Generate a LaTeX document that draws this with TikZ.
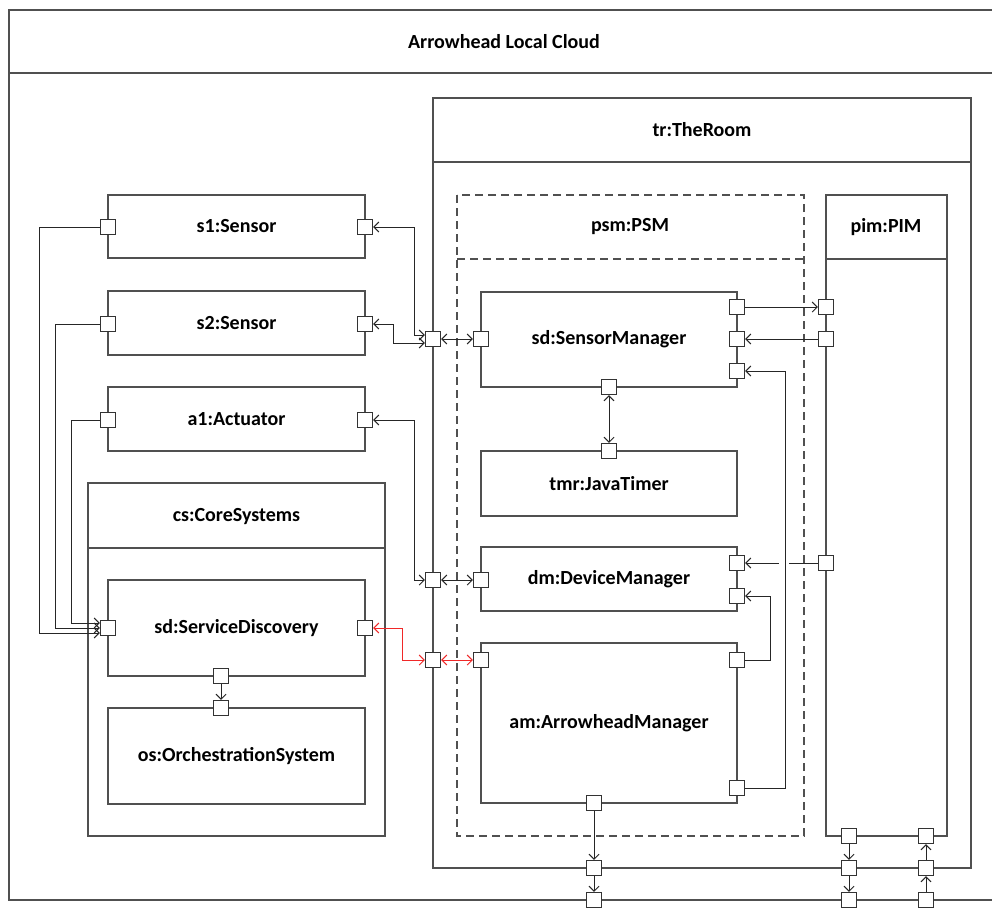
\documentclass[tikz,border=0pt]{standalone}
\usepackage{fontspec}
\setmainfont{Carlito}
\usetikzlibrary{arrows.meta}
\definecolor{boxgray}{RGB}{80,80,80}
\definecolor{wirered}{RGB}{240,40,40}
\tikzset{
  frame/.style={draw=boxgray, line width=1.3pt},
  title/.style={font=\bfseries\fontsize{20}{24}\selectfont},
  part/.style={frame, title, inner sep=0pt, minimum width=257pt},
  port/.style={draw=black!80, line width=1.2pt, fill=white, minimum size=15pt, inner sep=0pt},
  wire/.style={draw=black!85, line width=1pt, >={Straight Barb[length=5pt,width=10pt]}},
  redwire/.style={wire, draw=wirered},
}
\begin{document}
\begin{tikzpicture}[x=1pt,y=-1pt]
\clip (0,0) rectangle (992,907);
\fill[white] (0,0) rectangle (992,907);
% frames with a header
\draw[frame] (9,10) rectangle (1020,900);
\draw[frame] (9,73) -- (1020,73);
\node[title] (alc) at (504,42) {Arrowhead Local Cloud};
\draw[frame] (433,98) rectangle (971,868);
\draw[frame] (433,162) -- (971,162);
\node[title] (tr) at (702,130) {tr:TheRoom};
\draw[frame,dash pattern=on 8pt off 5pt] (457,195) rectangle (804,836);
\draw[frame,dash pattern=on 8pt off 5pt] (457,259) -- (804,259);
\node[title] (psm) at (630,227) {psm:PSM};
\draw[frame] (826,195) rectangle (947,836);
\draw[frame] (826,259) -- (947,259);
\node[title] (pim) at (886,227) {pim:PIM};
\draw[frame] (88,483) rectangle (385,836);
\draw[frame] (88,548) -- (385,548);
\node[title] (cs) at (236.5,517) {cs:CoreSystems};
% parts
\node[part, minimum height=63pt] (s1) at (236.5,226.5) {s1:Sensor};
\node[part, minimum height=64pt] (s2) at (236.5,323) {s2:Sensor};
\node[part, minimum height=64pt] (a1) at (236.5,419) {a1:Actuator};
\node[part, minimum height=96pt] (sd) at (236.5,628) {sd:ServiceDiscovery};
\node[part, minimum height=96pt] (os) at (236.5,756) {os:OrchestrationSystem};
\node[part, minimum width=256pt, minimum height=95pt] (sm) at (609,339.5) {sd:SensorManager};
\node[part, minimum width=256pt, minimum height=65pt] (tmr) at (609,483.5) {tmr:JavaTimer};
\node[part, minimum width=256pt, minimum height=64pt] (dm) at (609,579) {dm:DeviceManager};
\node[part, minimum width=256pt, minimum height=160pt] (am) at (609,723) {am:ArrowheadManager};
% ports
\foreach \n/\x/\y in {s1l/108/227, s1r/365/227, s2l/108/324, s2r/365/324,
  a1l/108/420, a1r/365/420, sdl/108/628, sdr/365/628, sdb/221/676, ost/221/708,
  trA/433/339, trB/433/580, trC/433/660,
  smL/481/339, smR1/737/307, smR2/737/339, smR3/737/371, smB/609/387, tmT/609/451,
  dmL/481/580, dmR1/737/563, dmR2/737/596,
  amL/481/660, amR1/737/660, amR2/737/788, amB/594/803,
  pmA/826/307, pmB/826/339, pmC/826/563, pmD/849/836, pmE/926/836,
  trD/594/868, trE/849/868, trF/926/868, acA/594/900, acB/849/900, acC/926/900}
\node[port] (\n) at (\x,\y) {};
% connectors to the room
\draw[wire,<->] (s1r.east) -- ++(41,0) |- ([yshift=4pt]trA.west);
\draw[wire,<->] (s2r.east) -- ++(20,0) |- ([yshift=-4pt]trA.west);
\draw[wire,<->] (trA) -- (smL);
\draw[wire,<->] (a1r.east) -- ++(41,0) |- (trB.west);
\draw[wire,<->] (trB) -- (dmL);
\draw[redwire,<->] (sdr.east) -- ++(29,0) |- (trC.west);
\draw[redwire,<->] (trC) -- (amL);
% service discovery
\draw[wire,->] (s1l.west) -- ++(-60,0) |- ([yshift=-5pt]sdl.west);
\draw[wire,->] (s2l.west) -- ++(-44,0) |- (sdl.west);
\draw[wire,->] (a1l.west) -- ++(-28,0) |- ([yshift=5pt]sdl.west);
\draw[wire,->] (sdb) -- (ost);
% inside the room
\draw[wire,->] (smR1) -- (pmA);
\draw[wire,->] (pmB) -- (smR2);
\draw[wire,<->] (smB) -- (tmT);
\draw[wire,->] (pmC.west) -- ++(-29,0) ++(-10,0) -- (dmR1.east);
\draw[wire,->] (amR1.east) -- ++(25,0) |- (dmR2.east);
\draw[wire,->] (amR2.east) -- ++(40,0) |- (smR3.east);
% down and up through the walls
\draw[wire,->] (amB) -- (trD);
\draw[wire,->] (trD) -- (acA);
\draw[wire,->] (pmD) -- (trE);
\draw[wire,->] (trE) -- (acB);
\draw[wire,->] (acC) -- (trF);
\draw[wire,->] (trF) -- (pmE);
\end{tikzpicture}
\end{document}
